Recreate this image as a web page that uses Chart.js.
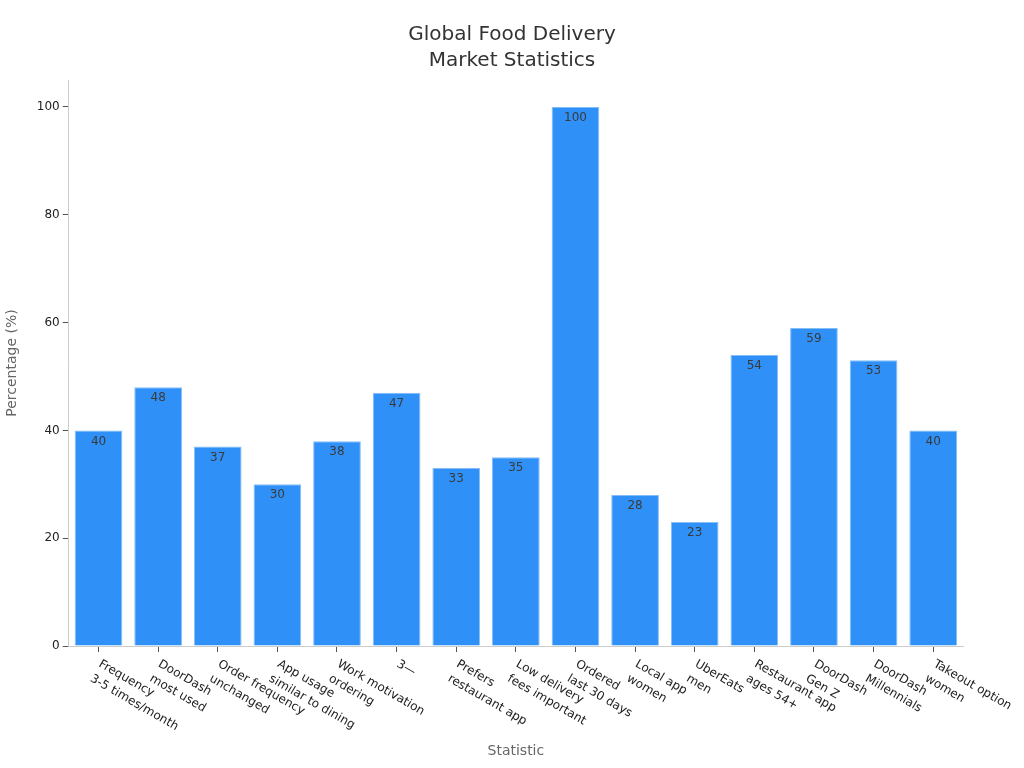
<!DOCTYPE html>
<html>
<head>
<meta charset="utf-8">
<script src="https://cdn.jsdelivr.net/npm/chart.js@4.4.1/dist/chart.umd.min.js"></script>
<style>
  html, body { margin: 0; padding: 0; background: #fff; }
  #wrap { width: 1024px; height: 768px; }
</style>
</head>
<body>
<div id="wrap"><canvas id="foodChart" width="1024" height="768"></canvas></div>
<script>
// categories (multi-line labels) and values
const categories = [
    ['Frequency', '3-5 times/month'],
    ['DoorDash', 'most used'],
    ['Order frequency', 'unchanged'],
    ['App usage', 'similar to dining'],
    ['Work motivation', 'ordering'],
    ['3\u2014'],
    ['Prefers', 'restaurant app'],
    ['Low delivery', 'fees important'],
    ['Ordered', 'last 30 days'],
    ['Local app', 'women'],
    ['UberEats', 'men'],
    ['Restaurant app', 'ages 54+'],
    ['DoorDash', 'Gen Z'],
    ['DoorDash', 'Millennials'],
    ['Takeout option', 'women']
];
const percentages = [40, 48, 37, 30, 38, 47, 33, 35, 100, 28, 23, 54, 59, 53, 40];
const yTicks = [0, 20, 40, 60, 80, 100];
const titleLines = ['Global Food Delivery', 'Market Statistics'];

const FONT = 'DejaVu Sans';

// draws the title, value labels inside bars, rotated x labels and x title
const labelPlugin = {
    id: 'labelPlugin',
    afterDatasetsDraw(chart) {
        const ctx = chart.ctx;
        const meta = chart.getDatasetMeta(0);
        ctx.save();
        ctx.font = '12px ' + FONT;
        ctx.fillStyle = '#3a3a3a';
        ctx.textAlign = 'center';
        ctx.textBaseline = 'top';
        meta.data.forEach(function(bar, i) {
            ctx.fillText(String(percentages[i]), bar.x, bar.y + 5);
        });
        ctx.restore();
    },
    afterDraw(chart) {
        const ctx = chart.ctx;
        const xScale = chart.scales.x;
        const baseY = xScale.top + 12;
        ctx.save();

        // title, centred on the whole canvas
        ctx.font = '20px ' + FONT;
        ctx.fillStyle = '#333';
        ctx.textAlign = 'center';
        ctx.textBaseline = 'middle';
        titleLines.forEach(function(line, i) {
            ctx.fillText(line, chart.width / 2, 35 + i * 26);
        });

        // rotated category labels
        ctx.font = '12px ' + FONT;
        ctx.fillStyle = '#222';
        ctx.textAlign = 'left';
        ctx.textBaseline = 'top';
        categories.forEach(function(lines, i) {
            const x = xScale.getPixelForValue(i);
            ctx.save();
            ctx.translate(x + 4, baseY);
            ctx.rotate(Math.PI / 6);
            lines.forEach(function(line, j) {
                ctx.fillText(line, 0, j * 17);
            });
            ctx.restore();
        });

        // x axis title
        ctx.font = '14px ' + FONT;
        ctx.fillStyle = '#666';
        ctx.textAlign = 'center';
        ctx.textBaseline = 'middle';
        ctx.fillText('Statistic', (xScale.left + xScale.right) / 2, 751);
        ctx.restore();
    }
};

const ctxFood = document.getElementById('foodChart').getContext('2d');
const foodChart = new Chart(ctxFood, {
    type: 'bar',
    data: {
        labels: categories.map(function(c) { return c.join(' '); }),
        datasets: [
            {
                label: 'Percentage',
                data: percentages,
                backgroundColor: '#2f91f8',
                borderColor: '#85bdf7',
                borderWidth: 1,
                barPercentage: 0.8,
                categoryPercentage: 1.0
            }
        ]
    },
    options: {
        responsive: false,
        animation: false,
        layout: { padding: { left: 4, right: 61, top: 80, bottom: 116 } },
        plugins: {
            legend: { display: false },
            tooltip: { enabled: false },
            title: { display: false }
        },
        scales: {
            x: {
                grid: { display: true, offset: false, drawOnChartArea: false, drawTicks: true, tickLength: 6, tickColor: '#555' },
                border: { color: '#ccc' },
                ticks: { display: false }
            },
            y: {
                min: 0,
                max: 105,
                afterBuildTicks: function(scale) {
                    scale.ticks = yTicks.map(function(v) { return { value: v }; });
                },
                grid: { display: true, drawOnChartArea: false, drawTicks: true, tickLength: 6, tickColor: '#555' },
                border: { color: '#ccc' },
                ticks: {
                    color: '#222',
                    font: { family: FONT, size: 12 },
                    padding: 3
                },
                title: {
                    display: true,
                    text: 'Percentage (%)',
                    color: '#666',
                    font: { family: FONT, size: 14 },
                    padding: { top: 0, bottom: 13 }
                }
            }
        }
    },
    plugins: [labelPlugin]
});
</script>
</body>
</html>
